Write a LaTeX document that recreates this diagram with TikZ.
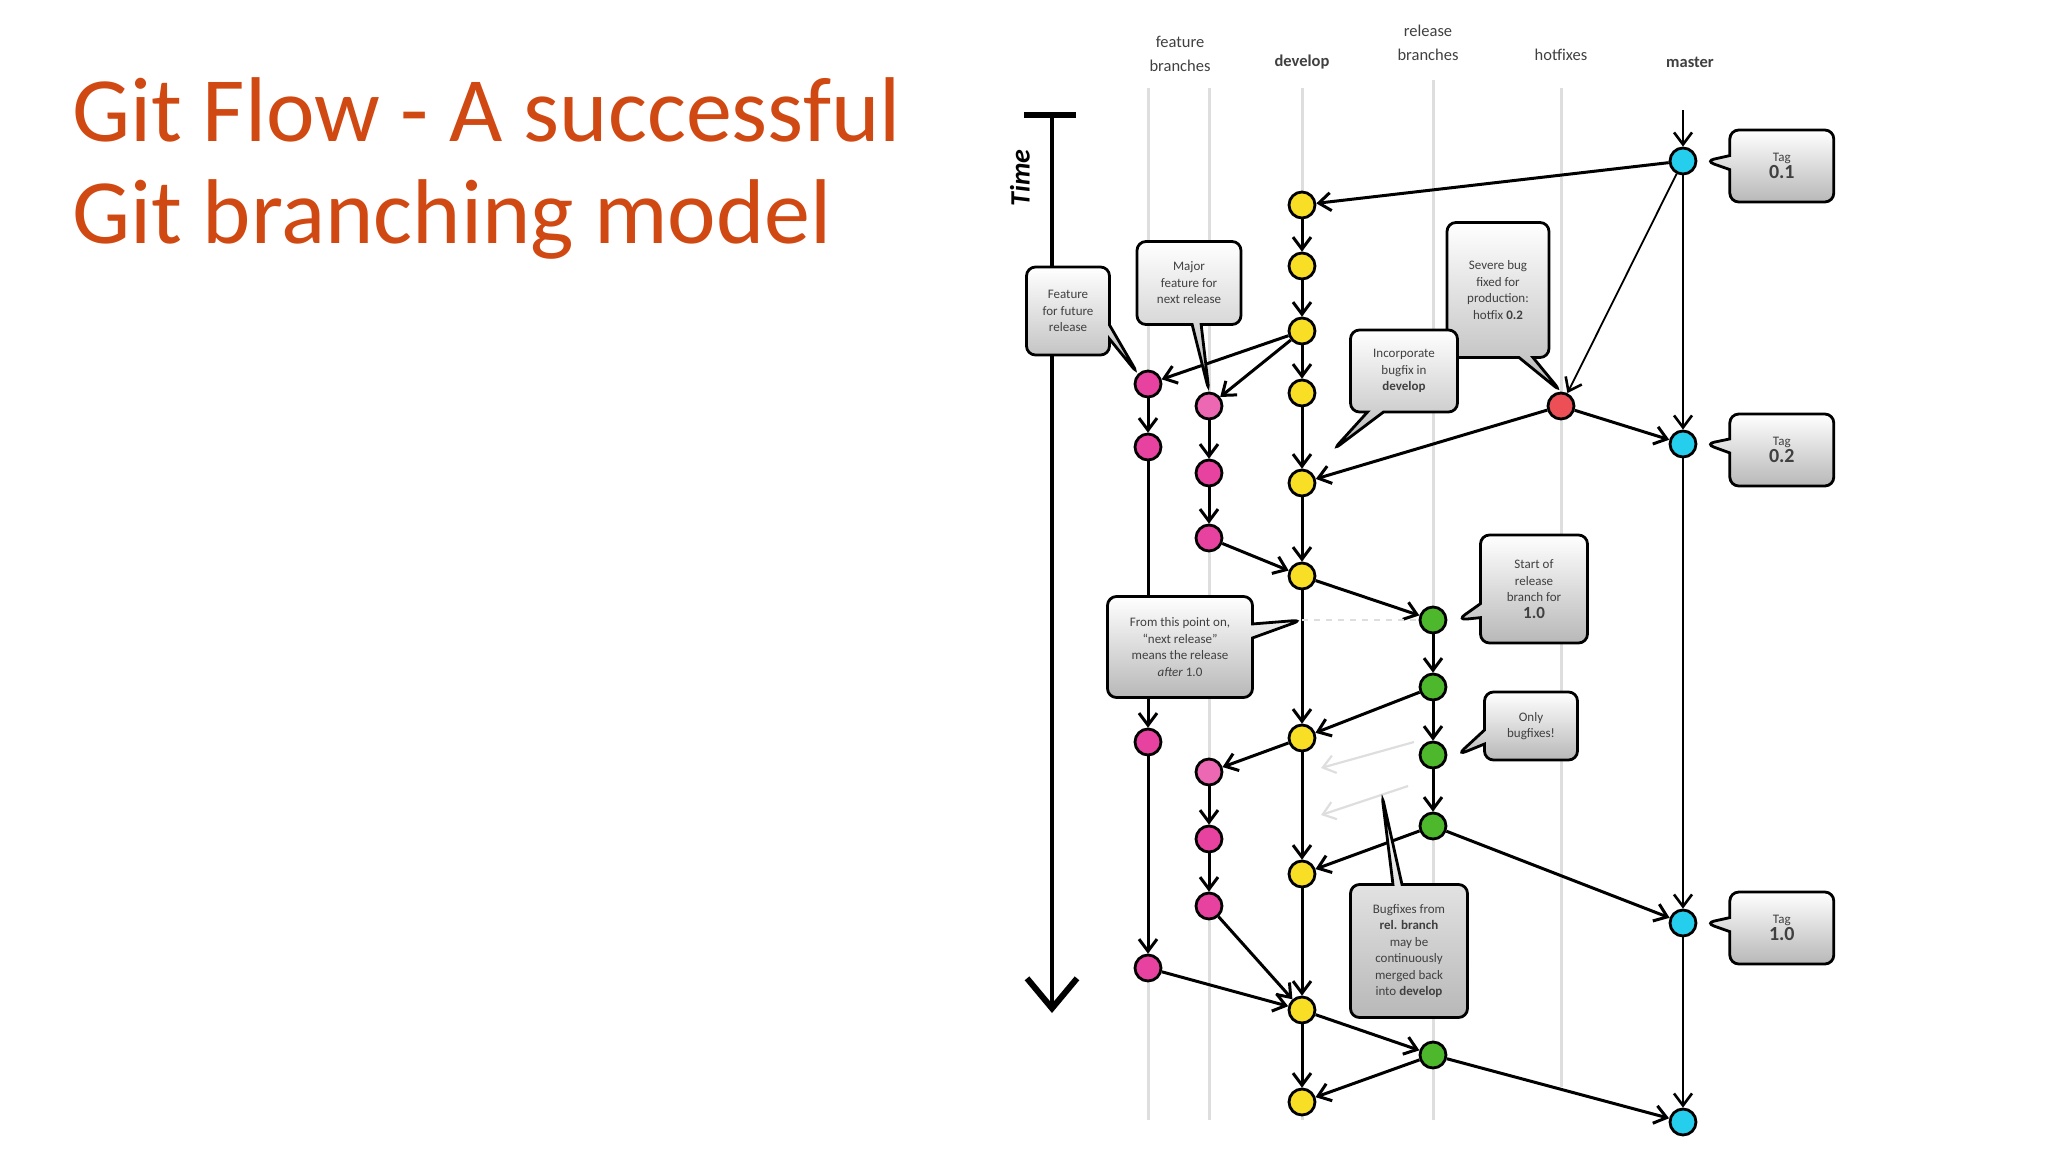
\documentclass[tikz,border=0pt]{standalone}
\usepackage{fontspec}
\setmainfont{Carlito}
\usepackage{tikz}
\usetikzlibrary{positioning, calc, arrows.meta, shapes.callouts}
\definecolor{slideorange}{RGB}{208,72,18}
\definecolor{devyellow}{RGB}{248,222,36}
\definecolor{featpink}{RGB}{232,66,160}
\definecolor{relgreen}{RGB}{78,184,44}
\definecolor{mastercyan}{RGB}{36,206,236}
\definecolor{hotred}{RGB}{236,80,86}
\definecolor{lanegray}{RGB}{222,222,222}
\definecolor{notetext}{RGB}{64,64,64}

\begin{document}
\begin{tikzpicture}[x=1pt, y=-1pt,
  commit/.style = {draw, circle, line width=2.8pt, minimum size=26pt, inner sep=0pt},
  flow/.style = {line width=3pt, -{Straight Barb[length=12pt,width=18pt]}},
  thinflow/.style = {line width=1.8pt, -{Straight Barb[length=12pt,width=18pt,line width=2.6pt]}},
  lane/.style = {line width=3pt, lanegray},
  note/.style = {rectangle callout, draw, line width=2.8pt, rounded corners=9pt, top color=white, bottom color=black!28, text=notetext, align=center, font=\fontsize{13}{16.5}\selectfont, inner sep=2pt, callout pointer width=14pt},
  header/.style = {text=notetext, align=center, font=\fontsize{16.5}{24}\selectfont},
  title/.style = {anchor=base west, inner sep=0pt, text=slideorange, font=\fontsize{92}{100}\selectfont}
]
\useasboundingbox (0,0) rectangle (2048,1152);

% title
\node[title] (title1) at (72,141) {Git Flow - A successful};
\node[title] (title2) at (72,243) {Git branching model};

% column headers
\node[header] (hFeat) at (1180,54) {feature\\branches};
\node[header, font=\fontsize{16.5}{24}\selectfont\bfseries] (hDev) at (1302,62) {develop};
\node[header] (hRel) at (1428,43) {release\\branches};
\node[header] (hHot) at (1561,55) {hotfixes};
\node[header, font=\fontsize{16.5}{24}\selectfont\bfseries] (hMas) at (1690,62) {master};

% time axis
\coordinate (timeTop) at (1052,115);
\coordinate (timeEnd) at (1052,1013);
\draw[line width=4pt, -{Straight Barb[length=30pt,width=50pt,line width=6pt]}] (timeTop) -- (timeEnd);
\draw[line width=6pt] ([xshift=-28pt]timeTop) -- ([xshift=24pt]timeTop);
\node[rotate=90, font=\fontsize{28}{28}\selectfont\bfseries\itshape] (time) at (1020,178) {Time};

% lanes
\foreach \lx/\ltop/\lbot in {1148/88/1120, 1209/88/1120, 1302/88/1120, 1433/80/1120, 1561/88/1087}
  \draw[lane] (\lx,\ltop) -- (\lx,\lbot);

% master
\node[commit, fill=mastercyan] (m1) at (1683,161) {};
\node[commit, fill=mastercyan] (m2) at (1683,444) {};
\node[commit, fill=mastercyan] (m3) at (1683,923) {};
\node[commit, fill=mastercyan] (m4) at (1683,1122) {};

% hotfixes
\node[commit, fill=hotred] (h1) at (1561,406) {};

% develop
\node[commit, fill=devyellow] (d1) at (1302,205) {};
\node[commit, fill=devyellow] (d2) at (1302,266) {};
\node[commit, fill=devyellow] (d3) at (1302,331) {};
\node[commit, fill=devyellow] (d4) at (1302,393) {};
\node[commit, fill=devyellow] (d5) at (1302,483) {};
\node[commit, fill=devyellow] (d6) at (1302,576) {};
\node[commit, fill=devyellow] (d7) at (1302,738) {};
\node[commit, fill=devyellow] (d8) at (1302,874) {};
\node[commit, fill=devyellow] (d9) at (1302,1010) {};
\node[commit, fill=devyellow] (d10) at (1302,1102) {};

% feature branches
\node[commit, fill=featpink] (f1a) at (1148,384) {};
\node[commit, fill=featpink] (f1b) at (1148,447) {};
\node[commit, fill=featpink] (f1c) at (1148,742) {};
\node[commit, fill=featpink] (f1d) at (1148,968) {};
\node[commit, fill=featpink!80] (f2a) at (1209,406) {};
\node[commit, fill=featpink] (f2b) at (1209,473) {};
\node[commit, fill=featpink] (f2c) at (1209,538) {};
\node[commit, fill=featpink!80] (f2d) at (1209,772) {};
\node[commit, fill=featpink] (f2e) at (1209,839) {};
\node[commit, fill=featpink] (f2f) at (1209,906) {};

% release branches
\node[commit, fill=relgreen] (r1) at (1433,620) {};
\node[commit, fill=relgreen] (r2) at (1433,687) {};
\node[commit, fill=relgreen] (r3) at (1433,755) {};
\node[commit, fill=relgreen] (r4) at (1433,826) {};
\node[commit, fill=relgreen] (r5) at (1433,1055) {};

%--- master line ---
\coordinate (mStart) at (1683,110);
\draw[thinflow] (mStart) -- (m1);
\draw[thinflow] (m1) -- (m2);
\draw[thinflow] (m2) -- (m3);
\draw[thinflow] (m3) -- (m4);

%--- develop line ---
\foreach \a/\b in {d1/d2, d2/d3, d3/d4, d4/d5, d5/d6, d6/d7, d7/d8, d8/d9, d9/d10}
  \draw[flow] (\a) -- (\b);

%--- feature lines ---
\foreach \a/\b in {f1a/f1b, f1b/f1c, f1c/f1d, f2a/f2b, f2b/f2c, f2d/f2e, f2e/f2f}
  \draw[flow] (\a) -- (\b);

%--- release line ---
\foreach \a/\b in {r1/r2, r2/r3, r3/r4}
  \draw[flow] (\a) -- (\b);

%--- merges ---
\draw[flow] (m1) -- (d1);
\draw[thinflow] (m1) -- (h1);
\draw[flow] (d3) -- (f1a);
\draw[flow] (d3) -- (f2a);
\draw[flow] (h1) -- (m2);
\draw[flow] (h1) -- (d5);
\draw[flow] (f2c) -- (d6);
\draw[flow] (d6) -- (r1);
\draw[flow] (r2) -- (d7);
\draw[flow] (d7) -- (f2d);
\draw[flow] (r4) -- (d8);
\draw[flow] (r4) -- (m3);
\draw[flow] (f2f) -- (d9);
\draw[flow] (f1d) -- (d9);
\draw[flow] (d9) -- (r5);
\draw[flow] (r5) -- (d10);
\draw[flow] (r5) -- (m4);

%--- faint merges back into develop ---
\coordinate (g1s) at (1414,742);
\coordinate (g1e) at (1321,768);
\coordinate (g2s) at (1408,786);
\coordinate (g2e) at (1321,815);
\draw[flow, lanegray, line width=2.2pt] (g1s) -- (g1e);
\draw[flow, lanegray, line width=2.2pt] (g2s) -- (g2e);
\draw[lanegray, line width=2pt, dash pattern=on 6pt off 6pt] (d6 |- r1) -- (r1.west);

%--- notes ---
\node[note, minimum width=83pt, minimum height=88pt, callout absolute pointer={(f1a.north west)}] (cFeat) at (1068,311) {Feature\\for future\\release};
\node[note, minimum width=104pt, minimum height=83pt, callout pointer width=9pt, callout absolute pointer={(f2a.north)}] (cMajor) at (1189,283) {Major\\feature for\\next release};
\node[note, minimum width=102pt, minimum height=135pt, callout absolute pointer={(h1.north)}] (cSevere) at (1498,290) {Severe bug\\fixed for\\production:\\hotfix \textbf{0.2}};
\node[note, minimum width=107pt, minimum height=82pt, callout pointer width=16pt, callout absolute pointer={($(d5)+(31,-33)$)}] (cIncorp) at (1404,371) {Incorporate\\bugfix in\\\textbf{develop}};
\node[note, minimum width=145pt, minimum height=101pt, callout absolute pointer={(d6 |- r1)}] (cFrom) at (1180,647) {From this point on,\\``next release''\\means the release\\\textit{after} 1.0};
\node[note, minimum width=107pt, minimum height=108pt, callout absolute pointer={([xshift=10pt]r1.east)}] (cStart) at (1534,589) {Start of\\release\\branch for\\{\fontsize{17}{20}\selectfont\bfseries 1.0}};
\node[note, minimum width=93pt, minimum height=68pt, callout absolute pointer={([xshift=10pt]r3.east)}] (cOnly) at (1531,726) {Only\\bugfixes!};
\node[note, minimum width=117pt, minimum height=133pt, callout pointer width=9pt, callout absolute pointer={($(g2s)!0.3!(g2e)$)}] (cBugfix) at (1409,951) {Bugfixes from\\\textbf{rel. branch}\\may be\\continuously\\merged back\\into \textbf{develop}};

% tags
\node[note, minimum width=104pt, minimum height=72pt, right=31pt of m1, yshift=-5pt, callout absolute pointer={([xshift=8pt]m1.east)}] (cTag01) {{\fontsize{13}{15}\selectfont Tag}\\{\fontsize{20}{22}\selectfont\bfseries 0.1}};
\node[note, minimum width=104pt, minimum height=72pt, right=31pt of m2, yshift=-6pt, callout absolute pointer={([xshift=8pt]m2.east)}] (cTag02) {{\fontsize{13}{15}\selectfont Tag}\\{\fontsize{20}{22}\selectfont\bfseries 0.2}};
\node[note, minimum width=104pt, minimum height=72pt, right=31pt of m3, yshift=-5pt, callout absolute pointer={([xshift=8pt]m3.east)}] (cTag10) {{\fontsize{13}{15}\selectfont Tag}\\{\fontsize{20}{22}\selectfont\bfseries 1.0}};

\end{tikzpicture}
\end{document}
